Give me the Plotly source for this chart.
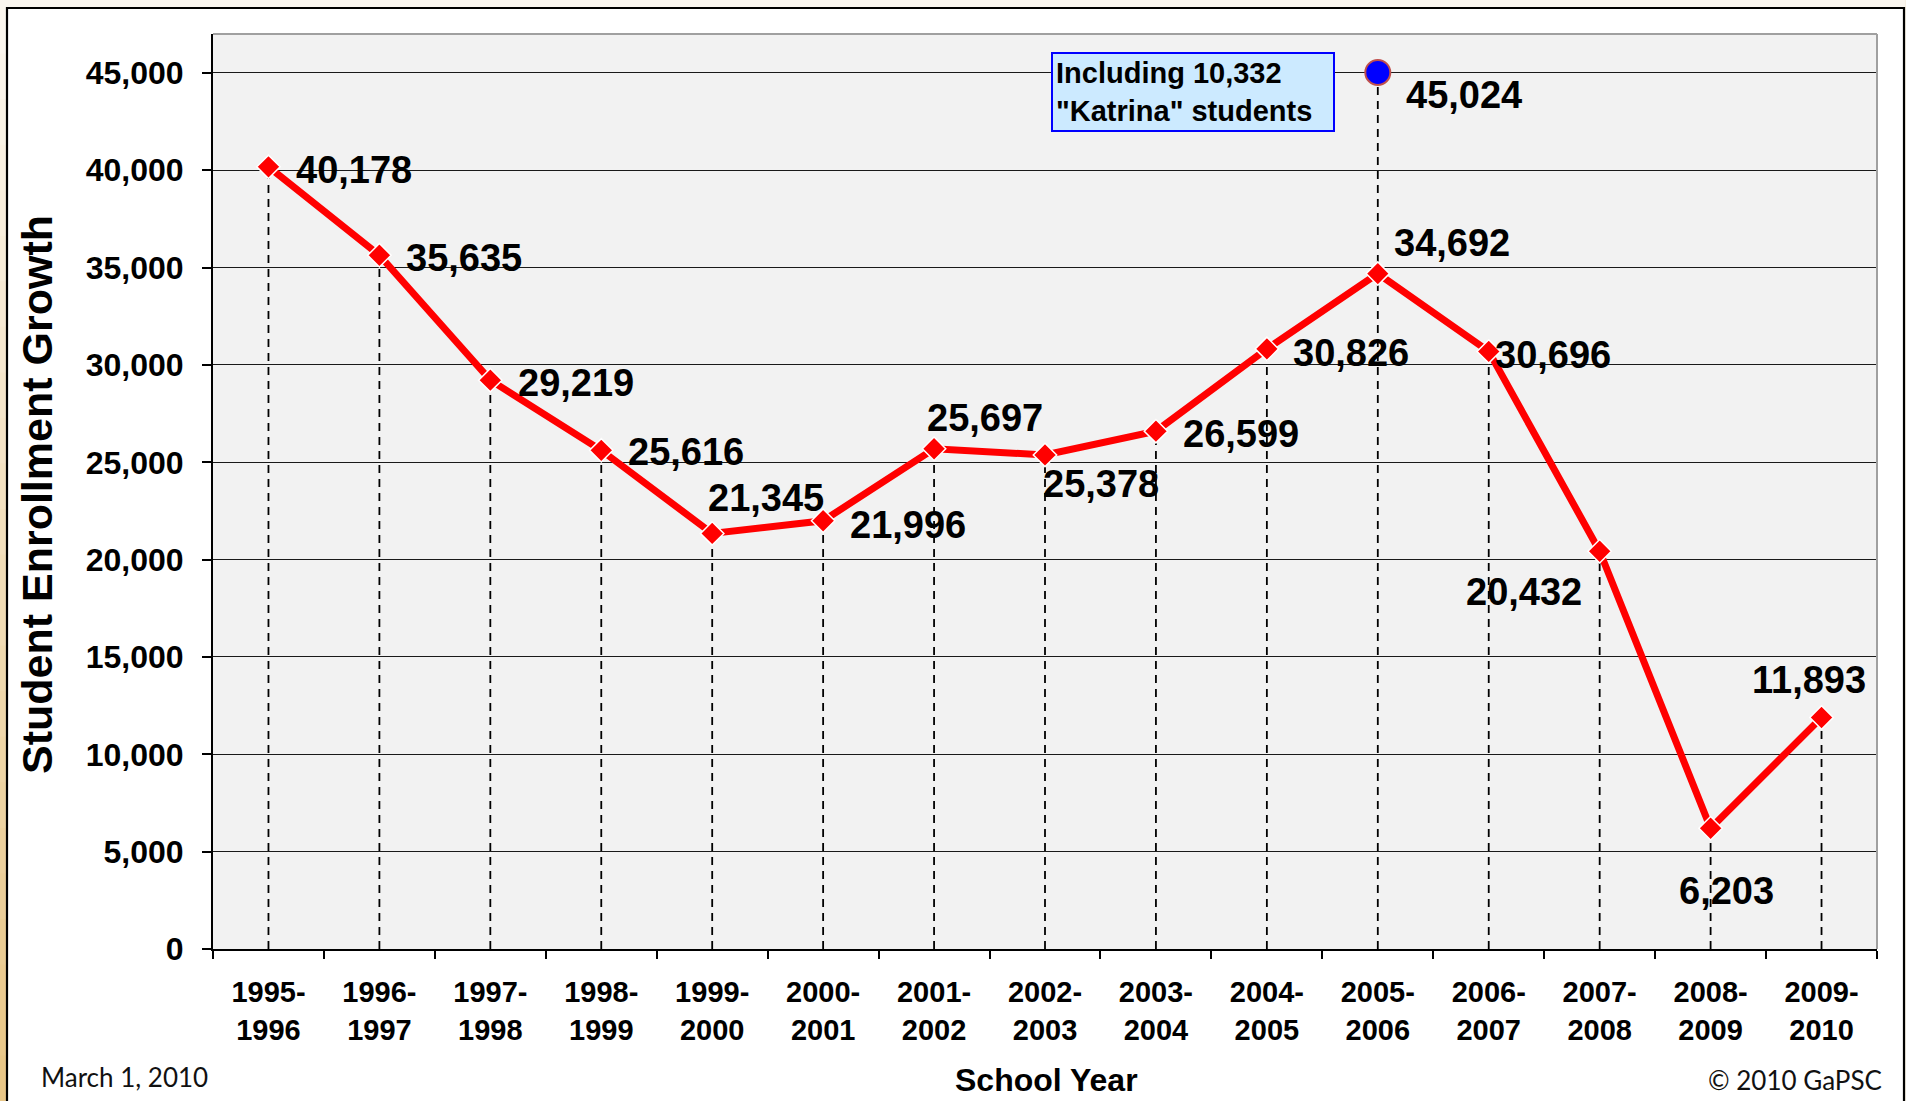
import plotly.graph_objects as go

# ---------------- data ----------------
school_years = ["1995-1996", "1996-1997", "1997-1998", "1998-1999", "1999-2000",
                "2000-2001", "2001-2002", "2002-2003", "2003-2004", "2004-2005",
                "2005-2006", "2006-2007", "2007-2008", "2008-2009", "2009-2010"]
enrollment_growth = [40178, 35635, 29219, 25616, 21345, 21996, 25697, 25378,
                     26599, 30826, 34692, 30696, 20432, 6203, 11893]
katrina_year = "2005-2006"
katrina_total = 45024
katrina_note = 'Including 10,332<br>"Katrina" students'
y_ticks = [0, 5000, 10000, 15000, 20000, 25000, 30000, 35000, 40000, 45000]

# ---------------- layout geometry (pixels) ----------------
W, H = 1906, 1101
ML, MR, MT, MB = 213, 29, 34, 152
PW, PH = W - ML - MR, H - MT - MB


def px(xp):
    return (xp - ML) / PW


def py(yp):
    return (H - MB - yp) / PH


cats = [y.replace("-", "-<br>") for y in school_years]
kat_cat = katrina_year.replace("-", "-<br>")

FONT = "Liberation Sans, Arial, sans-serif"

# label offsets (xshift px, yshift px downward, anchor left)
label_offsets = [(26, 3), (25, 3), (26, 3), (25, 2), (-6, -35), (25, 4), (-9, -31),
                 (-4, 29), (25, 3), (24, 4), (14, -31), (4, 4), (-136, 41),
                 (-34, 63), (-72, -37)]

fig = go.Figure()

# drop lines
dx, dy = [], []
for c, v in zip(cats, enrollment_growth):
    top = katrina_total if c == kat_cat else v
    dx += [c, c, None]
    dy += [0, top, None]
fig.add_trace(go.Scatter(x=dx, y=dy, mode="lines", hoverinfo="skip",
                         line=dict(color="black", width=1.8, dash="8px,6px"),
                         showlegend=False))

# main line
fig.add_trace(go.Scatter(x=cats, y=enrollment_growth, mode="lines+markers",
                         line=dict(color="#ff0000", width=7),
                         marker=dict(symbol="diamond", size=18, color="#ff0000",
                                     line=dict(color="white", width=1.5)),
                         showlegend=False))

# katrina point
fig.add_trace(go.Scatter(x=[kat_cat], y=[katrina_total], mode="markers",
                         marker=dict(symbol="circle", size=25, color="#0000ff",
                                     line=dict(color="#c0504d", width=2)),
                         showlegend=False))

annotations = []
for c, v, (ox, oy) in zip(cats, enrollment_growth, label_offsets):
    annotations.append(dict(x=c, y=v, xref="x", yref="y", text=f"{v:,}",
                            showarrow=False, xanchor="left", yanchor="middle",
                            xshift=ox, yshift=-oy,
                            font=dict(family=FONT, size=38, color="black", weight="bold")))
annotations.append(dict(x=kat_cat, y=katrina_total, xref="x", yref="y",
                        text=f"{katrina_total:,}", showarrow=False,
                        xanchor="left", yanchor="middle", xshift=26, yshift=-23,
                        font=dict(family=FONT, size=38, color="black", weight="bold")))
# note box
annotations.append(dict(x=px(1051), y=py(52), xref="paper", yref="paper",
                        text=katrina_note, showarrow=False, xanchor="left", yanchor="top",
                        align="left", bgcolor="#cceaff", bordercolor="#0000ff",
                        borderwidth=2, borderpad=3, width=274,
                        font=dict(family=FONT, size=29, color="black", weight="bold")))
# axis titles
annotations.append(dict(x=px(37), y=py(495), xref="paper", yref="paper",
                        text="Student Enrollment Growth", textangle=-90, showarrow=False,
                        xanchor="center", yanchor="middle",
                        font=dict(family=FONT, size=43, color="black", weight="bold")))
annotations.append(dict(x=px(1046), y=py(1080), xref="paper", yref="paper",
                        text="School Year", showarrow=False,
                        xanchor="center", yanchor="middle",
                        font=dict(family=FONT, size=32, color="black", weight="bold")))
annotations.append(dict(x=px(39), y=py(1077), xref="paper", yref="paper",
                        text="March 1, 2010", showarrow=False,
                        xanchor="left", yanchor="middle",
                        font=dict(family="Lato, Carlito, sans-serif", size=26, color="#111111")))
annotations.append(dict(x=px(1884), y=py(1080), xref="paper", yref="paper",
                        text="© 2010 GaPSC", showarrow=False,
                        xanchor="right", yanchor="middle",
                        font=dict(family="Lato, Carlito, sans-serif", size=26, color="#111111")))

shapes = []
# top cream strip
shapes.append(dict(type="rect", xref="paper", yref="paper", x0=px(0), x1=px(W),
                   y0=py(0), y1=py(8), fillcolor="#faf6ef", line=dict(width=0), layer="below"))
# left gradient strip
n = 24
c0 = (0xfb, 0xf6, 0xee)
c1 = (0xe8, 0xc6, 0x87)
for i in range(n):
    t = i / (n - 1)
    col = "rgb(%d,%d,%d)" % tuple(round(a + (b - a) * t) for a, b in zip(c0, c1))
    y0p = 8 + i * (H - 8) / n
    y1p = 8 + (i + 1) * (H - 8) / n + 1
    shapes.append(dict(type="rect", xref="paper", yref="paper", x0=px(0), x1=px(6.5),
                       y0=py(y0p), y1=py(y1p), fillcolor=col, line=dict(width=0), layer="below"))
# right strip
shapes.append(dict(type="rect", xref="paper", yref="paper", x0=px(1905), x1=px(W),
                   y0=py(0), y1=py(H), fillcolor="#f6efe2", line=dict(width=0), layer="below"))
# white box border
shapes.append(dict(type="rect", xref="paper", yref="paper", x0=px(7), x1=px(1904),
                   y0=py(8), y1=py(H + 20), fillcolor="rgba(0,0,0,0)",
                   line=dict(color="black", width=2.2), layer="above"))
# plot top & right border (gray)
shapes.append(dict(type="line", xref="paper", yref="paper", x0=0, x1=1, y0=1, y1=1,
                   line=dict(color="#a0a0a0", width=2), layer="above"))
shapes.append(dict(type="line", xref="paper", yref="paper", x0=1, x1=1, y0=0, y1=1,
                   line=dict(color="#a0a0a0", width=2), layer="above"))

fig.update_layout(
    width=W, height=H,
    margin=dict(l=ML, r=MR, t=MT, b=MB, autoexpand=False),
    paper_bgcolor="white", plot_bgcolor="#f2f2f2",
    showlegend=False,
    annotations=annotations, shapes=shapes,
    xaxis=dict(type="category", categoryorder="array", categoryarray=cats,
               tickson="boundaries", ticks="outside", ticklen=8, tickwidth=2,
               tickcolor="black", showline=True, linecolor="black", linewidth=2,
               showgrid=False, zeroline=False, ticklabelstandoff=16,
               tickfont=dict(family=FONT, size=29, color="black", weight="bold"),
               range=[-0.5, 14.5]),
    yaxis=dict(range=[0, 47000], tickvals=y_ticks, tickformat=",",
               ticks="outside", ticklen=9, tickwidth=2, tickcolor="black",
               showline=True, linecolor="black", linewidth=2,
               showgrid=True, gridcolor="#1a1a1a", gridwidth=1.3, zeroline=False,
               ticklabelstandoff=12,
               tickfont=dict(family=FONT, size=32, color="black", weight="bold")),
)

fig.write_html("out.html", config={"displayModeBar": False},
               post_script="document.body.style.margin='0';document.body.style.overflow='hidden';")
